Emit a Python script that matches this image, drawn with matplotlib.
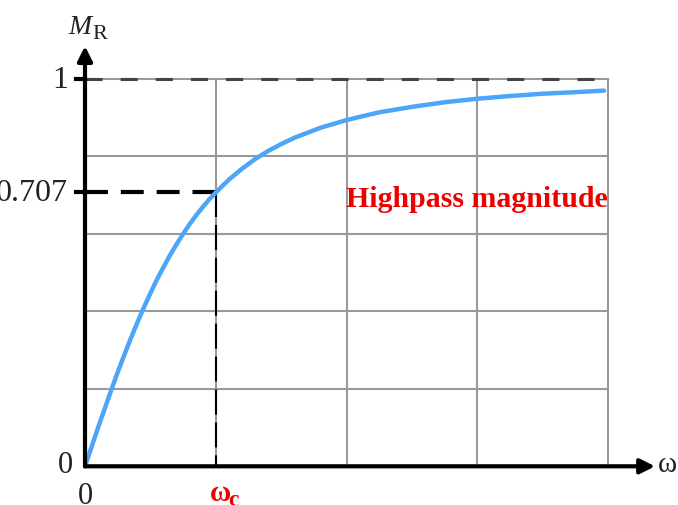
import matplotlib
matplotlib.use("Agg")
import matplotlib.pyplot as plt

# ---- data ----
omega = [0.0, 0.05, 0.1, 0.15, 0.2, 0.25, 0.3, 0.35, 0.4, 0.45, 0.5, 0.55, 0.6,
         0.65, 0.7, 0.75, 0.8, 0.85, 0.9, 0.95, 1.0, 1.1, 1.2, 1.3, 1.4, 1.5,
         1.6, 1.8, 2.0, 2.25, 2.5, 2.75, 3.0, 3.25, 3.5, 3.75, 3.97]
mag = [0.0, 0.05, 0.10, 0.148, 0.196, 0.243, 0.287, 0.33, 0.371, 0.41, 0.447,
       0.482, 0.514, 0.545, 0.573, 0.60, 0.625, 0.648, 0.669, 0.689, 0.707,
       0.74, 0.768, 0.793, 0.814, 0.832, 0.848, 0.874, 0.894, 0.914, 0.928,
       0.94, 0.949, 0.956, 0.962, 0.966, 0.97]
grid_x = [1, 2, 3, 4]
grid_y = [0.2, 0.4, 0.6, 0.8, 1.0]
cutoff = 1.0
cutoff_mag = 0.707
ytick_vals = [0, 0.707, 1]
ytick_labels = ["0", "0.707", "1"]
title_text = "Highpass magnitude"

W, H = 678, 506
fig = plt.figure(figsize=(W / 100, H / 100), dpi=100)
x0, x1 = 85, 608
y0, y1 = 467.3, 80
ax = fig.add_axes([x0 / W, 1 - y0 / H, (x1 - x0) / W, (y0 - y1) / H])
ax.set_xlim(0, 4)
ax.set_ylim(0, 1)
ax.axis("off")

serif = ["Liberation Serif", "DejaVu Serif"]
txt = "#222222"
red = "#ee0000"

# grid
for gx in grid_x:
    ax.plot([gx, gx], [0, 1], color="#999999", lw=1.5, zorder=1, clip_on=False)
for gy in grid_y:
    ax.plot([0, 4], [gy, gy], color="#999999", lw=1.5, zorder=1, clip_on=False)

# top dashed line at 1
ax.plot([0, 4], [1, 1], color="#444444", lw=2.2, dashes=(5.6, 5.9), zorder=2,
        clip_on=False)

# cutoff dashed lines
ax.plot([0, cutoff], [cutoff_mag, cutoff_mag], color="black", lw=3,
        dashes=(5.5, 3.1), zorder=3, clip_on=False)
ax.plot([cutoff, cutoff], [cutoff_mag, 0], color="black", lw=1.5,
        dashes=(12, 3.8), zorder=3, clip_on=False)

# curve
ax.plot(omega, mag, color="#4ca5f8", lw=3.2, zorder=4, solid_capstyle="round",
        solid_joinstyle="round", clip_on=False)

# axes with arrows
ax.annotate("", xy=(4.36, 0), xytext=(0, 0), annotation_clip=False,
            arrowprops=dict(arrowstyle="-|>", lw=3, color="black",
                            mutation_scale=22, shrinkA=0, shrinkB=0), zorder=5)
ax.annotate("", xy=(0, 1.085), xytext=(0, 0), annotation_clip=False,
            arrowprops=dict(arrowstyle="-|>", lw=3, color="black",
                            mutation_scale=22, shrinkA=0, shrinkB=0), zorder=5)

# y tick marks and labels
for v, lab in zip(ytick_vals, ytick_labels):
    if v != 0:
        ax.plot([-0.07, 0], [v, v], color="black", lw=3, zorder=5, clip_on=False)
        ax.text(-0.13, v, lab, ha="right", va="center", fontsize=23,
                family=serif, color=txt)
    else:
        ax.text(-0.095, v + 0.005, lab, ha="right", va="center", fontsize=22,
                family=serif, color=txt)

# x tick labels
ax.text(0, -0.094, "0", ha="center", va="baseline", fontsize=22, family=serif,
        color=txt)
ax.text(0.956, -0.087, "ω", ha="left", va="baseline", fontsize=21,
        family=serif, fontweight="bold", color=red)
ax.text(1.094, -0.1, "c", ha="left", va="baseline", fontsize=17,
        family=serif, fontweight="bold", color=red)
ax.text(4.38, 0.005, "ω", ha="left", va="center", fontsize=21, family=serif,
        color=txt)

# y axis label M_R
fig.text(68 / W, 1 - 34 / H, "M", fontsize=20, family=serif, style="italic",
         ha="left", va="baseline", color=txt)
fig.text(92 / W, 1 - 39 / H, "R", fontsize=16, family=serif,
         ha="left", va="baseline", color=txt)

# annotation
ax.text(4.0, 0.692, title_text, ha="right", va="center",
        fontsize=21.5, family=serif, fontweight="bold", color=red)

fig.savefig("out.png", dpi=100)
